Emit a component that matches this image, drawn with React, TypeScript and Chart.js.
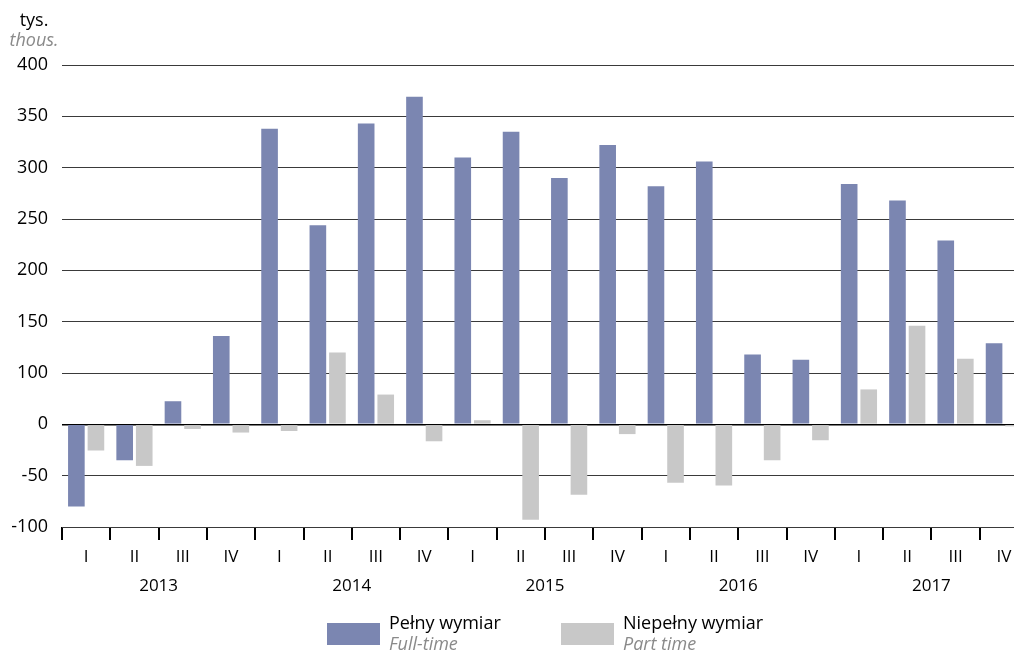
import React, { useEffect, useRef } from "react";
import { Chart, registerables } from "chart.js";

Chart.register(...registerables);

const quarters = ["I", "II", "III", "IV", "I", "II", "III", "IV", "I", "II", "III", "IV", "I", "II", "III", "IV", "I", "II", "III", "IV"];
const years = ["2013", "2014", "2015", "2016", "2017"];
const fullTime = [-80, -35, 22.5, 86, 288, 194, 293, 319, 260, 285, 240, 272, 232, 256, 68, 63, 234, 218, 179, 79];
const partTime = [-25.5, -40.5, -4.5, -8, -6.5, 70, 29, -16.5, 4, -93, -68.5, -9.5, -57, -59.5, -35, -15.5, 34, 96, 64, -2];
const yTickLabels = ["-100", "-50", "0", "100", "150", "200", "250", "300", "350", "400"];
const seriesNames = ["Pełny wymiar", "Niepełny wymiar"];
const seriesNamesEn = ["Full-time", "Part time"];
const unitLabel = "tys.";
const unitLabelEn = "thous.";

const BLUE = "#7b86b1";
const GRAY = "#c8c8c8";
const FONT = '"Open Sans", "Noto Sans", sans-serif';

const yearsPlugin = {
  id: "years",
  afterDraw(chart: any) {
    const x = chart.scales.x;
    const ctx = chart.ctx;
    ctx.save();
    ctx.font = `17px ${FONT}`;
    ctx.fillStyle = "#000";
    ctx.textAlign = "center";
    ctx.textBaseline = "middle";
    years.forEach((y, i) => {
      ctx.fillText(y, x.getPixelForValue(i * 4 + 1.5), 586);
    });
    ctx.restore();
  },
};

export default function App() {
  const ref = useRef<HTMLCanvasElement | null>(null);
  useEffect(() => {
    if (!ref.current) return;
    const chart = new Chart(ref.current, {
      type: "bar",
      data: {
        labels: quarters,
        datasets: [
          { label: seriesNames[0], data: fullTime, backgroundColor: BLUE, categoryPercentage: 0.81, barPercentage: 0.85 },
          { label: seriesNames[1], data: partTime, backgroundColor: GRAY, categoryPercentage: 0.81, barPercentage: 0.85 },
        ],
      },
      options: {
        animation: false,
        responsive: false,
        maintainAspectRatio: false,
        layout: { padding: { top: 65, right: 0, bottom: 0, left: 0 } },
        plugins: { legend: { display: false }, tooltip: { enabled: false } },
        scales: {
          x: {
            offset: true,
            border: { display: false },
            grid: {
              display: true,
              offset: true,
              drawOnChartArea: false,
              drawTicks: true,
              tickLength: 13,
              color: "#000",
              lineWidth: 2,
            },
            ticks: { color: "#000", font: { family: FONT, size: 17 }, padding: 7, maxRotation: 0, autoSkip: false },
            afterFit: (s: any) => {
              s.height = 127;
            },
          },
          y: {
            min: -100,
            max: 350,
            border: { display: false },
            grid: {
              drawTicks: false,
              color: (c: any) => (c.tick && c.tick.value === 0 ? "#000" : "#3a3a3a"),
              lineWidth: (c: any) => (c.tick && c.tick.value === 0 ? 1.5 : 1),
            },
            ticks: {
              stepSize: 50,
              padding: 14,
              color: "#000",
              font: { family: FONT, size: 18 },
              callback: (_v: any, i: number) => yTickLabels[i],
            },
            afterFit: (s: any) => {
              s.width = 62;
            },
          },
        },
      },
      plugins: [yearsPlugin],
    });
    return () => chart.destroy();
  }, []);

  const legendItem = (left: number, color: string, i: number) => (
    <div key={i}>
      <div style={{ position: "absolute", left, top: 623, width: 53, height: 22, background: color }} />
      <div style={{ position: "absolute", left: left + 62, top: 612, fontFamily: FONT, lineHeight: "21px" }}>
        <div style={{ fontSize: 18, color: "#000", whiteSpace: "nowrap" }}>{seriesNames[i]}</div>
        <div style={{ fontSize: 18, color: "#8a8a8a", fontStyle: "italic", whiteSpace: "nowrap" }}>{seriesNamesEn[i]}</div>
      </div>
    </div>
  );

  return (
    <div style={{ position: "absolute", left: 0, top: 0, width: 1014, height: 654, overflow: "hidden", background: "#fff" }}>
      <canvas ref={ref} width={1028} height={654} style={{ position: "absolute", left: 0, top: 0, width: 1028, height: 654 }} />
      <div style={{ position: "absolute", left: 0, top: 9, width: 68, textAlign: "center", fontFamily: FONT, lineHeight: "20px" }}>
        <div style={{ fontSize: 18, color: "#000" }}>{unitLabel}</div>
        <div style={{ fontSize: 18, color: "#8a8a8a", fontStyle: "italic" }}>{unitLabelEn}</div>
      </div>
      {legendItem(327, BLUE, 0)}
      {legendItem(561, GRAY, 1)}
    </div>
  );
}
